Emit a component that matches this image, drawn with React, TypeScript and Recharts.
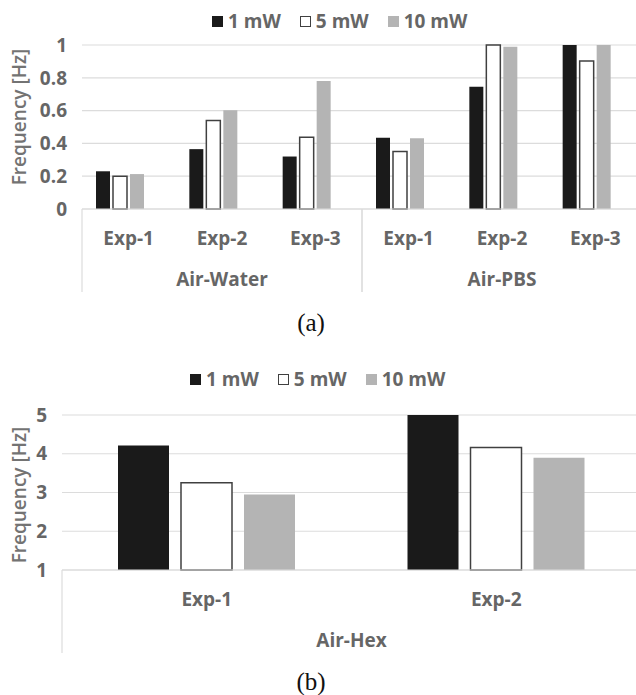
import React from "react";
import { BarChart, Bar, XAxis, YAxis, CartesianGrid, Label } from "recharts";

const SERIES_NAMES = ["1 mW", "5 mW", "10 mW"];

// (a) Air-Water / Air-PBS
const EXP_A = ["Exp-1", "Exp-2", "Exp-3", "Exp-1", "Exp-2", "Exp-3"];
const GROUP_A = ["Air-Water", "Air-Water", "Air-Water", "Air-PBS", "Air-PBS", "Air-PBS"];
const MW1_A = [0.23, 0.365, 0.32, 0.435, 0.745, 1.0];
const MW5_A = [0.2, 0.54, 0.437, 0.35, 1.0, 0.902];
const MW10_A = [0.213, 0.602, 0.78, 0.431, 0.99, 1.0];
const TICKS_A = [0, 0.2, 0.4, 0.6, 0.8, 1];

// (b) Air-Hex
const EXP_B = ["Exp-1", "Exp-2"];
const GROUP_B = ["Air-Hex", "Air-Hex"];
const MW1_B = [4.21, 5.0];
const MW5_B = [3.25, 4.16];
const MW10_B = [2.95, 3.9];
const TICKS_B = [1, 2, 3, 4, 5];

const BLACK = "#1a1a1a";
const GRAY = "#b4b4b4";
const OUTLINE = "#404040";
const GRID = "#dcdcdc";
const TEXT = "#666666";
const FONT = "'Open Sans', sans-serif";

interface Row {
  key: string;
  exp: string;
  group: string;
  mw1: number;
  mw5: number;
  mw10: number;
}

const buildRows = (
  exp: string[],
  groups: string[],
  mw1: number[],
  mw5: number[],
  mw10: number[]
): Row[] =>
  exp.map((e, i) => ({
    key: `${groups[i]} ${e}`,
    exp: e,
    group: groups[i],
    mw1: mw1[i],
    mw5: mw5[i],
    mw10: mw10[i],
  }));

const rowsA = buildRows(EXP_A, GROUP_A, MW1_A, MW5_A, MW10_A);
const rowsB = buildRows(EXP_B, GROUP_B, MW1_B, MW5_B, MW10_B);

// two-level category tick: experiment on top, group name below, group borders
const GroupTick = (props: any) => {
  const { x, y, payload, rows } = props;
  const i: number = payload.index;
  const half: number = payload.offset ?? 0;
  const row: Row = rows[i];
  const first = i === 0 || rows[i - 1].group !== row.group;
  const last = i === rows.length - 1 || rows[i + 1].group !== row.group;
  const n = rows.filter((r: Row) => r.group === row.group).length;
  const textStyle = {
    fontFamily: FONT,
    fontSize: 19,
    fontWeight: 700,
    fill: TEXT,
  };
  return (
    <g>
      <text x={x} y={y + 29} textAnchor="middle" dominantBaseline="central" style={textStyle}>
        {row.exp}
      </text>
      {first && (
        <line x1={x - half} x2={x - half} y1={y} y2={y + 83} stroke={GRID} strokeWidth={1.2} />
      )}
      {last && (
        <line x1={x + half} x2={x + half} y1={y} y2={y + 83} stroke={GRID} strokeWidth={1.2} />
      )}
      {first && (
        <text
          x={x - half + n * half}
          y={y + 70}
          textAnchor="middle"
          dominantBaseline="central"
          style={textStyle}
        >
          {row.group}
        </text>
      )}
    </g>
  );
};

const YTitle = ({ viewBox, shift }: any) => {
  if (!viewBox) return null;
  const cx = viewBox.x + 19;
  const cy = viewBox.y + viewBox.height / 2 + shift;
  return (
    <text
      transform={`translate(${cx}, ${cy}) rotate(-90)`}
      textAnchor="middle"
      dominantBaseline="central"
      style={{ fontFamily: FONT, fontSize: 19, fontWeight: 600, fill: "#737373" }}
    >
      Frequency [Hz]
    </text>
  );
};

const LegendRow: React.FC<{ top: number; left: number }> = ({ top, left }) => {
  const swatches = [
    { background: BLACK, border: `1px solid ${BLACK}` },
    { background: "#ffffff", border: `1.5px solid ${OUTLINE}` },
    { background: GRAY, border: `1px solid ${GRAY}` },
  ];
  return (
    <div
      style={{
        position: "absolute",
        top,
        left,
        display: "flex",
        alignItems: "center",
        height: 22,
        fontFamily: FONT,
        fontSize: 19,
        fontWeight: 700,
        color: TEXT,
      }}
    >
      {SERIES_NAMES.map((name, i) => (
        <div key={name} style={{ display: "flex", alignItems: "center", marginRight: 19 }}>
          <span
            style={{
              display: "inline-block",
              width: 11,
              height: 11,
              boxSizing: "border-box",
              marginRight: 5,
              ...swatches[i],
            }}
          />
          <span>{name}</span>
        </div>
      ))}
    </div>
  );
};

const Caption: React.FC<{ top: number; text: string }> = ({ top, text }) => (
  <div
    style={{
      position: "absolute",
      top,
      left: 0,
      width: 622,
      textAlign: "center",
      fontFamily: "'Liberation Serif', serif",
      fontSize: 25,
      lineHeight: "25px",
      color: "#111",
    }}
  >
    {text}
  </div>
);

const tickStyle = { fontFamily: FONT, fontSize: 19, fontWeight: 700, fill: TEXT };

const App: React.FC = () => {
  return (
    <div
      style={{
        position: "absolute",
        left: 0,
        top: 0,
        width: 636,
        height: 695,
        overflow: "hidden",
        background: "#fff",
      }}
    >
      <LegendRow top={10} left={212} />
      <div style={{ position: "absolute", top: 0, left: 0 }}>
        <BarChart
          width={650}
          height={300}
          data={rowsA}
          margin={{ top: 45, right: 8, bottom: 0, left: 0 }}
          barSize={14}
          barGap={3}
        >
          <CartesianGrid vertical={false} stroke={GRID} strokeWidth={1.2} />
          <XAxis
            dataKey="key"
            height={91}
            interval={0}
            tickLine={false}
            tickSize={0}
            tickMargin={0}
            axisLine={{ stroke: GRID, strokeWidth: 1.2 }}
            tick={(p: any) => <GroupTick {...p} rows={rowsA} />}
          />
          <YAxis
            type="number"
            domain={[0, 1]}
            ticks={TICKS_A}
            width={82}
            axisLine={false}
            tickLine={false}
            tickSize={0}
            tickMargin={15}
            tick={tickStyle}
          >
            <Label content={(p: any) => <YTitle viewBox={p.viewBox} shift={-10} />} />
          </YAxis>
          <Bar dataKey="mw1" name={SERIES_NAMES[0]} fill={BLACK} isAnimationActive={false} />
          <Bar
            dataKey="mw5"
            name={SERIES_NAMES[1]}
            fill="#ffffff"
            stroke={OUTLINE}
            strokeWidth={1.5}
            isAnimationActive={false}
          />
          <Bar dataKey="mw10" name={SERIES_NAMES[2]} fill={GRAY} isAnimationActive={false} />
          {/* empty fourth series slot, as in the original chart */}
          <Bar dataKey="spare" legendType="none" fill="none" isAnimationActive={false} />
        </BarChart>
      </div>
      <Caption top={310} text="(a)" />

      <LegendRow top={368} left={190} />
      <div style={{ position: "absolute", top: 340, left: 0 }}>
        <BarChart
          width={650}
          height={320}
          data={rowsB}
          margin={{ top: 75, right: 9, bottom: 0, left: 0 }}
          barSize={51}
          barGap={12}
        >
          <CartesianGrid vertical={false} stroke={GRID} strokeWidth={1.2} />
          <XAxis
            dataKey="key"
            height={90}
            interval={0}
            tickLine={false}
            tickSize={0}
            tickMargin={0}
            axisLine={{ stroke: GRID, strokeWidth: 1.2 }}
            tick={(p: any) => <GroupTick {...p} rows={rowsB} />}
          />
          <YAxis
            type="number"
            domain={[1, 5]}
            ticks={TICKS_B}
            width={62}
            axisLine={false}
            tickLine={false}
            tickSize={0}
            tickMargin={15}
            tick={tickStyle}
          >
            <Label content={(p: any) => <YTitle viewBox={p.viewBox} shift={2.5} />} />
          </YAxis>
          <Bar dataKey="mw1" name={SERIES_NAMES[0]} fill={BLACK} isAnimationActive={false} />
          <Bar
            dataKey="mw5"
            name={SERIES_NAMES[1]}
            fill="#ffffff"
            stroke={OUTLINE}
            strokeWidth={1.5}
            isAnimationActive={false}
          />
          <Bar dataKey="mw10" name={SERIES_NAMES[2]} fill={GRAY} isAnimationActive={false} />
        </BarChart>
      </div>
      <Caption top={669} text="(b)" />
    </div>
  );
};

export default App;
